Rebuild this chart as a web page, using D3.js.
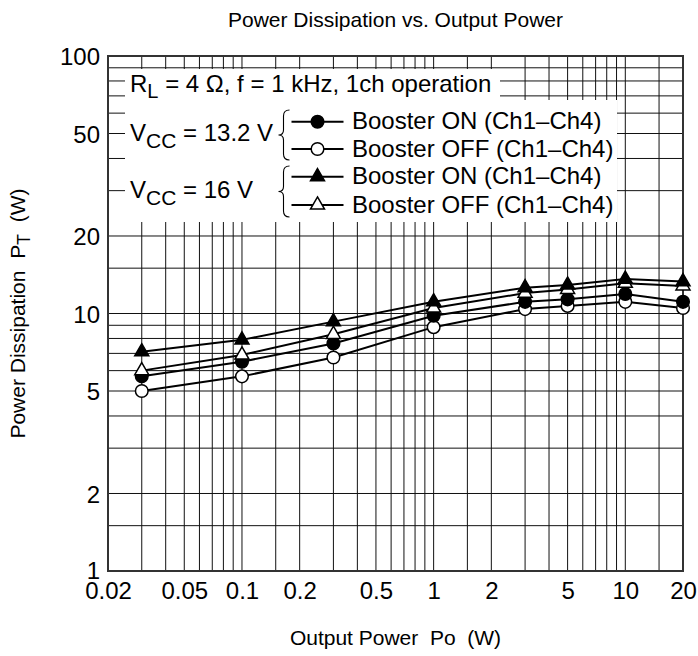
<!DOCTYPE html>
<html>
<head>
<meta charset="utf-8">
<script src="https://cdn.jsdelivr.net/npm/d3@7"></script>
<style>
  body { margin: 0; background: #fff; }
  text { font-family: "Liberation Sans", Arial, Helvetica, sans-serif; fill: #000; }
</style>
</head>
<body>
<svg id="chart" width="698" height="656"></svg>
<script>
// ---- data ----
const outputPower = [0.03, 0.1, 0.3, 1, 3, 5, 10, 20];
const vcc132BoosterOn  = [5.7, 6.5, 7.65, 9.8, 11.1, 11.35, 11.9, 11.1];
const vcc132BoosterOff = [5.0, 5.7, 6.75, 8.85, 10.4, 10.7, 11.1, 10.5];
const vcc16BoosterOn   = [7.1, 7.9, 9.3, 11.1, 12.6, 12.9, 13.6, 13.3];
const vcc16BoosterOff  = [6.0, 6.9, 8.3, 10.5, 12.0, 12.4, 13.1, 12.8];

const xTickLabels = [0.02, 0.05, 0.1, 0.2, 0.5, 1, 2, 5, 10, 20];
const yTickLabels = [1, 2, 5, 10, 20, 50, 100];
const gridMultipliers = [1, 1.5, 2, 3, 4, 5, 6, 7, 8, 9];
const xDecades = [0.01, 0.1, 1, 10];
const yDecades = [1, 10, 100];

const seriesNames = ["Booster ON (Ch1\u2013Ch4)", "Booster OFF (Ch1\u2013Ch4)", "Booster ON (Ch1\u2013Ch4)", "Booster OFF (Ch1\u2013Ch4)"];

// ---- layout ----
const svg = d3.select("#chart");
const L = 108, R = 683, T = 56, B = 571;
const x = d3.scaleLog().domain([0.02, 20]).range([L, R]);
const y = d3.scaleLog().domain([1, 100]).range([B, T]);
const FS = 24;

const series = [
  { values: vcc132BoosterOn,  shape: "circle",   fill: "#000" },
  { values: vcc132BoosterOff, shape: "circle",   fill: "#fff" },
  { values: vcc16BoosterOn,   shape: "triangle", fill: "#000" },
  { values: vcc16BoosterOff,  shape: "triangle", fill: "#fff" }
];

// grid values
const xGrid = [], yGrid = [];
xDecades.forEach(d => gridMultipliers.forEach(m => { const v = +(d * m).toPrecision(3); if (v > 0.02 && v < 20) xGrid.push(v); }));
yDecades.forEach(d => gridMultipliers.forEach(m => { const v = +(d * m).toPrecision(3); if (v > 1 && v < 100) yGrid.push(v); }));

const g = svg.append("g");
g.selectAll("line.vg").data(xGrid).join("line")
  .attr("x1", d => x(d)).attr("x2", d => x(d)).attr("y1", T).attr("y2", B)
  .attr("stroke", "#111").attr("stroke-width", 1);
g.selectAll("line.hg").data(yGrid).join("line")
  .attr("y1", d => y(d)).attr("y2", d => y(d)).attr("x1", L).attr("x2", R)
  .attr("stroke", "#111").attr("stroke-width", 1);

// legend white boxes
svg.append("rect").attr("x", 125).attr("y", 69).attr("width", 375).attr("height", 31).attr("fill", "#fff");
svg.append("rect").attr("x", 125).attr("y", 100).attr("width", 492).attr("height", 122).attr("fill", "#fff");

// frame
svg.append("rect").attr("x", L).attr("y", T).attr("width", R - L).attr("height", B - T)
  .attr("fill", "none").attr("stroke", "#333").attr("stroke-width", 2);

// axis tick labels
const xAxis = d3.axisBottom(x).tickValues(xTickLabels).tickSize(0).tickPadding(0)
  .tickFormat(d => String(d));
const gx = svg.append("g").attr("transform", `translate(0,${B})`).call(xAxis);
gx.select(".domain").remove();
gx.selectAll("text").attr("font-size", FS).attr("dy", null).attr("y", 27.5)
  .style("font-family", "Liberation Sans, Arial, sans-serif").attr("fill", "#000");

const yAxis = d3.axisLeft(y).tickValues(yTickLabels).tickSize(0).tickPadding(0)
  .tickFormat(d => String(d));
const gy = svg.append("g").attr("transform", `translate(100,0)`).call(yAxis);
gy.select(".domain").remove();
gy.selectAll("text").attr("font-size", FS).attr("x", 0).attr("dy", d => d === 1 ? "0.3em" : "0.36em")
  .style("font-family", "Liberation Sans, Arial, sans-serif").attr("fill", "#000");

// lines
const line = d3.line().x((d, i) => x(outputPower[i])).y(d => y(d));
series.forEach(s => {
  svg.append("path").datum(s.values).attr("d", line)
    .attr("fill", "none").attr("stroke", "#000").attr("stroke-width", 2);
});
// markers
const tri = d3.symbol().type(d3.symbolTriangle).size(85);
function drawMarker(sel, shape, fill, cx, cy) {
  if (shape === "circle") {
    sel.append("circle").attr("cx", cx).attr("cy", cy).attr("r", 6.3)
      .attr("fill", fill).attr("stroke", "#000").attr("stroke-width", 1.5);
  } else {
    sel.append("path").attr("d", tri()).attr("transform", `translate(${cx},${cy})`)
      .attr("fill", fill).attr("stroke", "#000").attr("stroke-width", 1.5);
  }
}
[1, 0, 3, 2].forEach(k => {
  const s = series[k];
  s.values.forEach((v, i) => drawMarker(svg, s.shape, s.fill, x(outputPower[i]), y(v)));
});

// legend header
const hdr = svg.append("text").attr("x", 130).attr("y", 91.5).attr("font-size", FS);
hdr.append("tspan").text("R");
hdr.append("tspan").attr("dy", 6).attr("font-size", 20).text("L");
hdr.append("tspan").attr("dy", -6).text("\u00a0= 4 \u03A9, f = 1 kHz, 1ch operation");

// vcc labels
function vccLabel(yc, txt) {
  const t = svg.append("text").attr("x", 130).attr("y", yc + 7.5).attr("font-size", FS);
  t.append("tspan").text("V");
  t.append("tspan").attr("dy", 7).attr("font-size", 21).text("CC");
  t.append("tspan").attr("dy", -7).text(txt);
}
vccLabel(133.3, "\u00a0= 13.2 V");
vccLabel(190.8, "\u00a0= 16 V");

// braces
function brace(xs, y1, y2) {
  const m = (y1 + y2) / 2;
  const p = `M${xs + 6},${y1} Q${xs},${y1} ${xs},${y1 + 6} L${xs},${m - 5} Q${xs},${m} ${xs - 5},${m} Q${xs},${m} ${xs},${m + 5} L${xs},${y2 - 6} Q${xs},${y2} ${xs + 6},${y2}`;
  svg.append("path").attr("d", p).attr("fill", "none").attr("stroke", "#000").attr("stroke-width", 1.1);
}
brace(283.5, 110, 160);
brace(283.5, 166, 217);

// legend entries
const rowY = [121.7, 149, 176.7, 205];
series.forEach((s, k) => {
  svg.append("line").attr("x1", 291.5).attr("x2", 343.5).attr("y1", rowY[k]).attr("y2", rowY[k])
    .attr("stroke", "#000").attr("stroke-width", 2);
  drawMarker(svg, s.shape, s.fill, 317.5, rowY[k]);
  svg.append("text").attr("x", 352).attr("y", rowY[k] + 7.5).attr("font-size", FS).text(seriesNames[k]);
});

// title and axis titles
svg.append("text").attr("x", 395.5).attr("y", 27).attr("text-anchor", "middle").attr("font-size", 21)
  .text("Power Dissipation vs. Output Power");
svg.append("text").attr("x", 395.5).attr("y", 645).attr("text-anchor", "middle").attr("font-size", 21)
  .text("Output Power\u00a0\u00a0Po\u00a0\u00a0(W)");
const yl = svg.append("text").attr("transform", "translate(25,313.5) rotate(-90)")
  .attr("text-anchor", "middle").attr("font-size", 21);
yl.append("tspan").text("Power Dissipation\u00a0\u00a0P");
yl.append("tspan").attr("dy", 5).attr("font-size", 18).text("T");
yl.append("tspan").attr("dy", -5).text("\u00a0\u00a0(W)");
</script>
</body>
</html>
